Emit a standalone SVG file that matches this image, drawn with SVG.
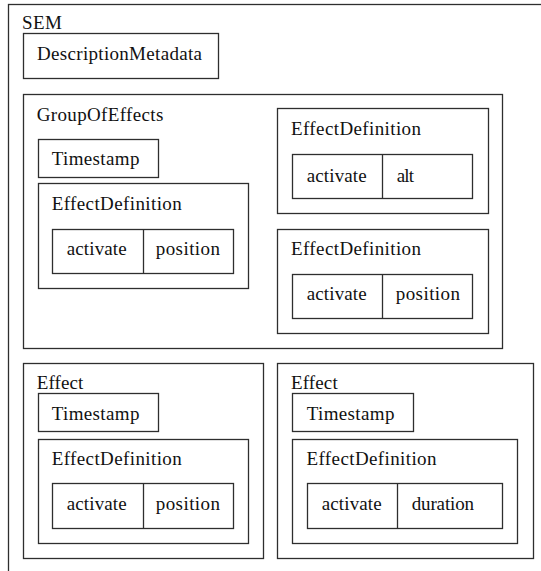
<svg xmlns="http://www.w3.org/2000/svg" width="541" height="571" viewBox="0 0 541 571" font-family="'Liberation Serif', 'DejaVu Serif', serif">
<style>
rect, line { fill: none; stroke: #2e2e2e; stroke-width: 1.3; }
text { font-size: 19px; fill: #111; }
.t { font-family: 'Liberation Serif', 'DejaVu Serif', serif; }
</style>
<rect x="0" y="0" width="541" height="571" style="fill:#fff;stroke:none"/>
<g id="SEM">
  <rect x="8.5" y="4.5" width="560" height="600"/>
  <text class="t" x="22" y="29" textLength="40" lengthAdjust="spacing">SEM</text>
</g>
<g id="DescriptionMetadata">
  <rect x="23.5" y="33.5" width="195" height="45"/>
  <text class="t" x="37" y="60" textLength="165" lengthAdjust="spacing">DescriptionMetadata</text>
</g>
<g id="GroupOfEffects">
  <rect x="23.5" y="94.5" width="479" height="254"/>
  <text class="t" x="36.7" y="120.5" textLength="126.7" lengthAdjust="spacing">GroupOfEffects</text>
</g>
<g id="GoE_Timestamp">
  <rect x="38.5" y="139.5" width="120" height="38"/>
  <text class="t" x="51.7" y="165" textLength="87.7" lengthAdjust="spacing">Timestamp</text>
</g>
<g id="GoE_EffectDefinition1">
  <rect x="38.5" y="183.5" width="210" height="105"/>
  <text class="t" x="51.7" y="210" textLength="130" lengthAdjust="spacing">EffectDefinition</text>
  <rect x="52.5" y="229.5" width="181" height="44"/>
  <line x1="143.5" y1="229.5" x2="143.5" y2="273.5"/>
  <text class="t" x="66.7" y="255" textLength="60" lengthAdjust="spacing">activate</text>
  <text class="t" x="155.7" y="255" textLength="64.3" lengthAdjust="spacing">position</text>
</g>
<g id="GoE_EffectDefinition2">
  <rect x="277.5" y="108.5" width="211" height="105"/>
  <text class="t" x="291" y="135" textLength="130" lengthAdjust="spacing">EffectDefinition</text>
  <rect x="292.5" y="154.5" width="180" height="44"/>
  <line x1="382.5" y1="154.5" x2="382.5" y2="198.5"/>
  <text class="t" x="306.7" y="181.5" textLength="60" lengthAdjust="spacing">activate</text>
  <text class="t" x="396.7" y="181.5" textLength="17.3" lengthAdjust="spacing">alt</text>
</g>
<g id="GoE_EffectDefinition3">
  <rect x="277.5" y="229.5" width="211" height="104"/>
  <text class="t" x="291" y="255" textLength="130" lengthAdjust="spacing">EffectDefinition</text>
  <rect x="292.5" y="274.5" width="180" height="44"/>
  <line x1="382.5" y1="274.5" x2="382.5" y2="318.5"/>
  <text class="t" x="306.7" y="299.5" textLength="60" lengthAdjust="spacing">activate</text>
  <text class="t" x="395.7" y="299.5" textLength="64.3" lengthAdjust="spacing">position</text>
</g>
<g id="Effect1">
  <rect x="23.5" y="363.5" width="240" height="195"/>
  <text class="t" x="36.7" y="389" textLength="46.7" lengthAdjust="spacing">Effect</text>
</g>
<g id="Effect1_Timestamp">
  <rect x="38.5" y="393.5" width="120" height="38"/>
  <text class="t" x="51.7" y="420" textLength="87.7" lengthAdjust="spacing">Timestamp</text>
</g>
<g id="Effect1_EffectDefinition">
  <rect x="38.5" y="439.5" width="210" height="104"/>
  <text class="t" x="51.7" y="465" textLength="130" lengthAdjust="spacing">EffectDefinition</text>
  <rect x="52.5" y="483.5" width="181" height="45"/>
  <line x1="143.5" y1="483.5" x2="143.5" y2="528.5"/>
  <text class="t" x="66.7" y="509.5" textLength="60" lengthAdjust="spacing">activate</text>
  <text class="t" x="155.7" y="509.5" textLength="64.3" lengthAdjust="spacing">position</text>
</g>
<g id="Effect2">
  <rect x="277.5" y="363.5" width="256" height="195"/>
  <text class="t" x="291" y="389" textLength="46.7" lengthAdjust="spacing">Effect</text>
</g>
<g id="Effect2_Timestamp">
  <rect x="292.5" y="393.5" width="121" height="38"/>
  <text class="t" x="306.7" y="420" textLength="87.7" lengthAdjust="spacing">Timestamp</text>
</g>
<g id="Effect2_EffectDefinition">
  <rect x="292.5" y="439.5" width="225" height="104"/>
  <text class="t" x="306.5" y="465" textLength="130" lengthAdjust="spacing">EffectDefinition</text>
  <rect x="307.5" y="483.5" width="195" height="45"/>
  <line x1="397.5" y1="483.5" x2="397.5" y2="528.5"/>
  <text class="t" x="321.7" y="509.5" textLength="60" lengthAdjust="spacing">activate</text>
  <text class="t" x="411.7" y="509.5" textLength="62.3" lengthAdjust="spacing">duration</text>
</g>
<g id="connectors"/>
</svg>
